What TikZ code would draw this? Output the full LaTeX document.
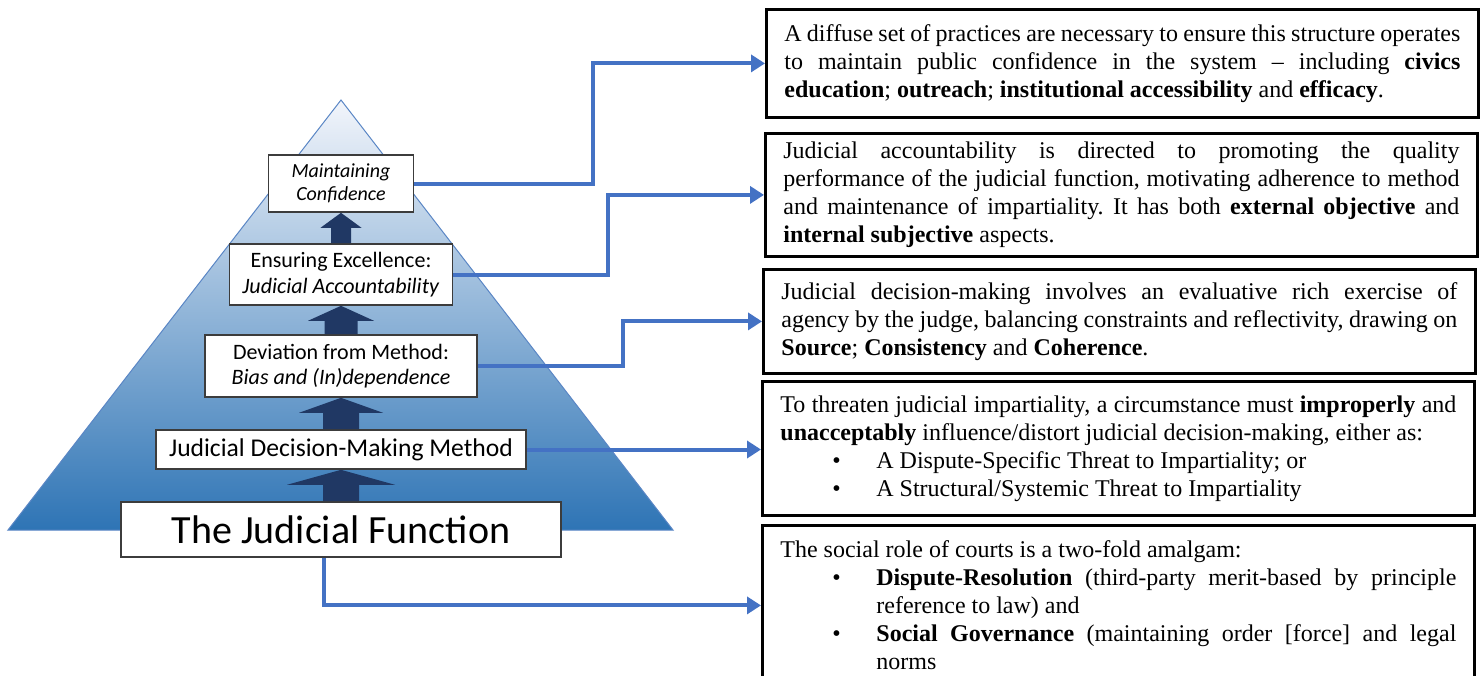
\documentclass[tikz,border=0pt]{standalone}
\usepackage{fontspec}
\setmainfont{Liberation Serif}
\newfontfamily\calibrifont{Carlito}
\usetikzlibrary{arrows.meta,calc}
\definecolor{linkblue}{HTML}{4472C4}
\definecolor{arrownavy}{HTML}{203864}
\definecolor{pyrtop}{HTML}{F2F5FB}
\definecolor{pyrmid}{HTML}{9DB4DC}
\definecolor{pyrbot}{HTML}{2E74B5}
\definecolor{pyredge}{HTML}{5A86C5}
\definecolor{boxline}{HTML}{3C3C3C}
\setlength{\parindent}{0pt}
\frenchspacing
\newcommand{\notebullet}{\par\hangindent=48pt\hangafter=0\noindent\llap{\textbullet\hspace{17.8pt}}}

\begin{document}
\begin{tikzpicture}[
  x=0.5pt,
  y=-0.5pt,
  levelbox/.style={draw=boxline, line width=0.8pt, fill=white, align=center, inner sep=1pt},
  notebox/.style={draw=black, line width=1.4pt, anchor=north west, text width=338pt,
    inner xsep=9pt, align=justify, font=\fontsize{12}{14}\selectfont},
  link/.style={linkblue, line width=2pt, -{Triangle[length=7pt,width=8.5pt]}},
  blockup/.style={fill=arrownavy}
]
  \useasboundingbox (0,0) rectangle (1483,675);
  \clip (0,0) rectangle (1483,675);

  % the pyramid
  \shadedraw[top color=pyrtop, middle color=pyrmid, bottom color=pyrbot, draw=pyredge, line width=0.5pt]
    (341,100) -- (673,530) -- (8,530) -- cycle;

  % levels of the pyramid
  \node[levelbox, minimum width=72.5pt, minimum height=28.5pt,
    font=\calibrifont\fontsize{10}{11.5}\selectfont\itshape] (mc) at (341,183.5) {Maintaining\\Confidence};
  \node[levelbox, minimum width=111.5pt, minimum height=30.5pt,
    font=\calibrifont\fontsize{11}{13}\selectfont] (ee) at (341,274.5) {Ensuring Excellence:\\\textit{Judicial Accountability}};
  \node[levelbox, minimum width=136pt, minimum height=31pt,
    font=\calibrifont\fontsize{11}{12.5}\selectfont] (dm) at (341,366) {Deviation from Method:\\\textit{Bias and (In)dependence}};
  \node[levelbox, minimum width=185pt, minimum height=19.5pt,
    font=\calibrifont\fontsize{12.8}{14}\selectfont] (jdm) at (341,449.5) {Judicial Decision-Making Method};
  \node[levelbox, minimum width=220pt, minimum height=27.5pt,
    font=\calibrifont\fontsize{20}{24}\selectfont] (jf) at (341,529.5) {The Judicial Function};

  % block arrows between the levels
  \foreach \up/\lo/\sw/\hw in {mc/ee/5/10.25, ee/dm/8.25/16.5, dm/jdm/9/21, jdm/jf/9/27}
    \fill[blockup] ([xshift=-\sw pt]\lo.north) -- ([xshift=-\sw pt, yshift=-7.5pt]\up.south)
      -- ([xshift=-\hw pt, yshift=-7.5pt]\up.south) -- (\up.south)
      -- ([xshift=\hw pt, yshift=-7.5pt]\up.south) -- ([xshift=\sw pt, yshift=-7.5pt]\up.south)
      -- ([xshift=\sw pt]\lo.north) -- cycle;

  % explanations
  \node[notebox, minimum height=54pt] (t1) at (765,8) {A diffuse set of practices are necessary to ensure this structure operates\linebreak
    to maintain public confidence in the system -- including \textbf{civics}\linebreak
    \textbf{education}; \textbf{outreach}; \textbf{institutional accessibility} and \textbf{efficacy}.};
  \node[notebox, minimum height=61.5pt] (t2) at (764,132) {Judicial accountability is directed to promoting the quality\linebreak
    performance of the judicial function, motivating adherence to method\linebreak
    and maintenance of impartiality. It has both \textbf{external objective} and\linebreak
    \textbf{internal subjective} aspects.};
  \node[notebox, minimum height=52pt] (t3) at (762,268) {Judicial decision-making involves an evaluative rich exercise of\linebreak
    agency by the judge, balancing constraints and reflectivity, drawing on\linebreak
    \textbf{Source}; \textbf{Consistency} and \textbf{Coherence}.};
  \node[notebox, minimum height=67pt] (t4) at (761,380) {To threaten judicial impartiality, a circumstance must \textbf{improperly} and\linebreak
    \textbf{unacceptably} influence/distort judicial decision-making, either as:
    \notebullet A Dispute-Specific Threat to Impartiality; or
    \notebullet A Structural/Systemic Threat to Impartiality\par};
  \node[notebox, minimum height=80pt] (t5) at (761,524) {The social role of courts is a two-fold amalgam:
    \notebullet \textbf{Dispute-Resolution} (third-party merit-based by principle\linebreak
    reference to law) and
    \notebullet \textbf{Social Governance} (maintaining order [force] and legal\linebreak
    norms\par};

  % connectors
  \coordinate (bendA) at (593,0);
  \coordinate (bendB) at (608,0);
  \coordinate (bendC) at (623,0);
  \draw[link] (mc.east) -- (mc.east -| bendA) |- (t1.west);
  \draw[link] (ee.east) -- (ee.east -| bendB) |- (t2.west);
  \draw[link] (dm.east) -- (dm.east -| bendC) |- (t3.west);
  \draw[link] (jdm.east) -- (jdm.east -| t4.west);
  \draw[link] ([xshift=-8.5pt]jf.south) |- (t5.west);
\end{tikzpicture}
\end{document}
